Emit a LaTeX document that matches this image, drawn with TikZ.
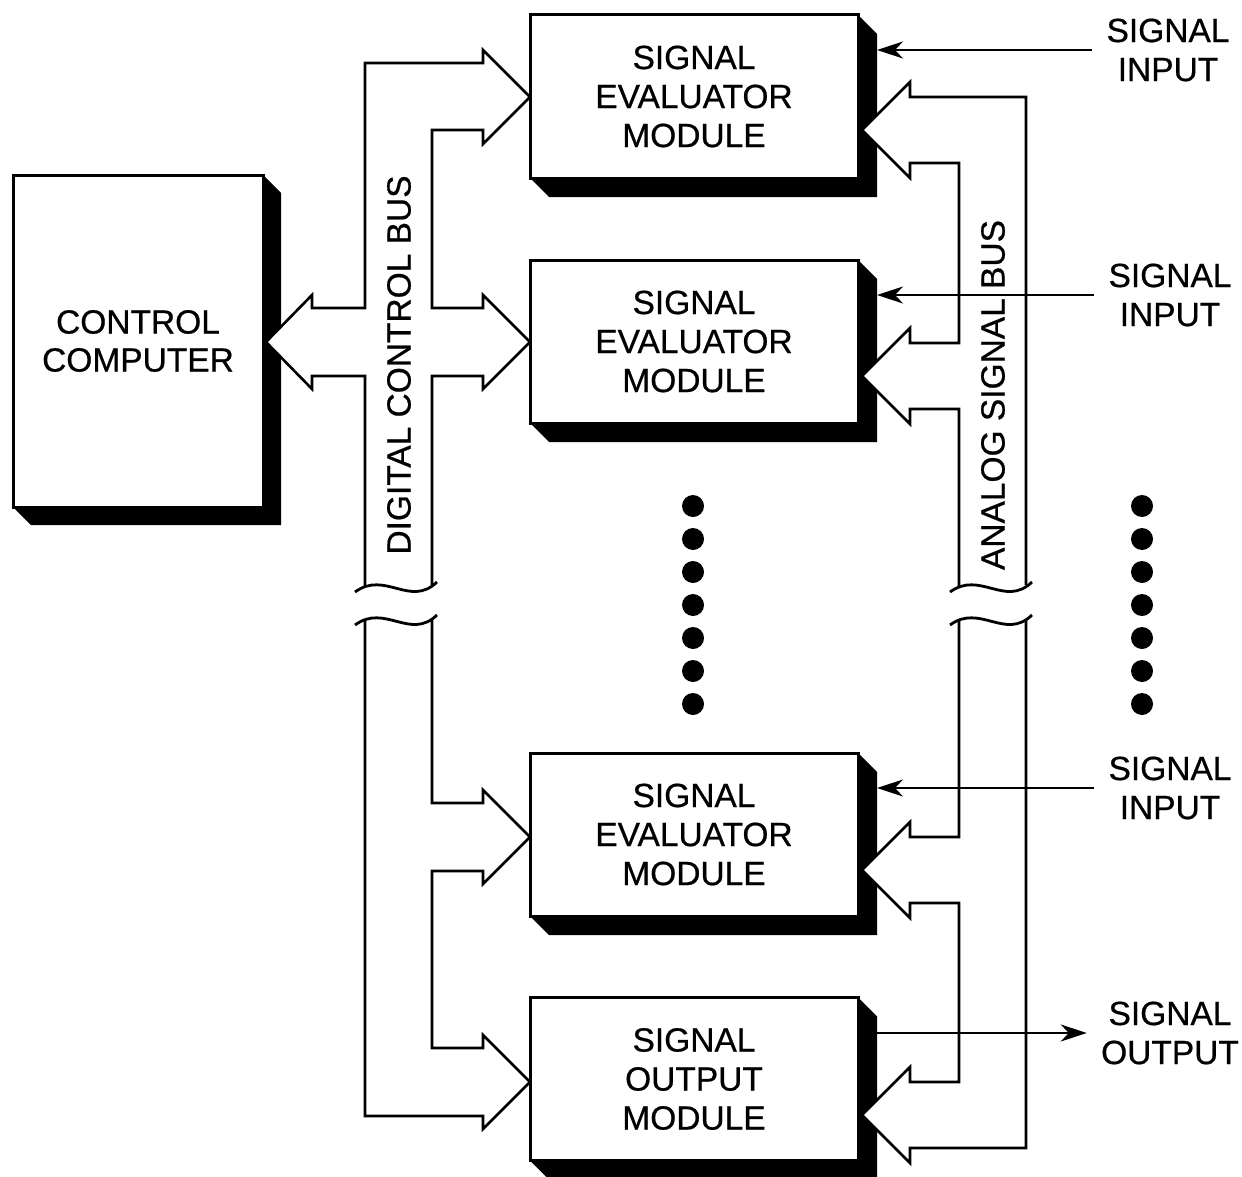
\documentclass[tikz,border=0pt]{standalone}
\usepackage{fontspec}
\setmainfont{Liberation Sans}[FakeBold=0.6]
\usetikzlibrary{arrows.meta,calc,backgrounds}

\tikzset{
  txt/.style={font=\fontsize{16.75}{19.5}\selectfont},
  blk/.style={txt, draw, line width=1.5pt, fill=white, minimum width=164pt,
    minimum height=81.5pt, inner sep=0pt, outer sep=0pt, align=center},
  bus/.style={draw, line width=1.3pt, fill=white, line join=miter},
  brk/.style={line width=1.4pt},
  sig/.style={line width=1.1pt, -{Stealth[length=13pt,width=8.5pt,inset=4pt]}},
  lbl/.style={txt, align=center, inner sep=7pt},
  buslbl/.style={txt, rotate=90, inner sep=0pt},
}

\begin{document}
\begin{tikzpicture}[x=0.5pt, y=-0.5pt]
\useasboundingbox (0,0) rectangle (1242,1177);

% blocks
\node[blk, minimum width=125pt, minimum height=166pt,
      font=\fontsize{16.75}{19}\selectfont] (cc) at (138,341) {CONTROL\\COMPUTER};
\node[blk] (m1) at (694,96.5)  {SIGNAL\\EVALUATOR\\MODULE};
\node[blk] (m2) at (694,341.5) {SIGNAL\\EVALUATOR\\MODULE};
\node[blk] (m3) at (694,834.5) {SIGNAL\\EVALUATOR\\MODULE};
\node[blk] (m4) at (694,1079)  {SIGNAL\\OUTPUT\\MODULE};

% solid block shadows
\begin{scope}[on background layer]
  \foreach \n/\d in {cc/18, m1/19, m2/19, m3/19, m4/19} {
    \fill (\n.north east) -- ++(\d,\d) -- ($(\n.south east)+(\d,\d)$)
      -- ($(\n.south west)+(\d,\d)$) -- (\n.south west) -- cycle;
  }
\end{scope}

% digital control bus, upper part
\path[bus] (365,587) -- (365,376) -- (312,376) -- (312,389) -- (266,342)
  -- (312,295) -- (312,308) -- (365,308) -- (365,63) -- (483,63) -- (483,50)
  -- (530,97) -- (483,144) -- (483,130) -- (432,130) -- (432,308) -- (483,308)
  -- (483,295) -- (530,342) -- (483,389) -- (483,376) -- (432,376) -- (432,586);
% digital control bus, lower part
\path[bus] (432,620) -- (432,803) -- (483,803) -- (483,790) -- (530,837)
  -- (483,884) -- (483,871) -- (432,871) -- (432,1048) -- (483,1048)
  -- (483,1035) -- (530,1082) -- (483,1129) -- (483,1116) -- (365,1116)
  -- (365,620);
\draw[brk] (355,592) .. controls (385,570) and (410,608) .. (437,582);
\draw[brk] (355,625) .. controls (385,603) and (410,641) .. (437,615);

% analog signal bus, upper part
\path[bus] (1026,585) -- (1026,97) -- (910,97) -- (910,82) -- (862,130)
  -- (910,178) -- (910,163) -- (959,163) -- (959,343) -- (910,343)
  -- (910,328) -- (862,376) -- (910,424) -- (910,409) -- (959,409)
  -- (959,587);
% analog signal bus, lower part
\path[bus] (959,621) -- (959,837) -- (910,837) -- (910,822) -- (862,870)
  -- (910,918) -- (910,903) -- (959,903) -- (959,1082) -- (910,1082)
  -- (910,1067) -- (862,1115) -- (910,1163) -- (910,1148) -- (1026,1148)
  -- (1026,619);
\draw[brk] (950,592) .. controls (980,570) and (1005,608) .. (1032,582);
\draw[brk] (950,625) .. controls (980,603) and (1005,641) .. (1032,615);

% bus names
\node[buslbl] (dcb) at (399,365) {DIGITAL CONTROL BUS};
\node[buslbl] (asb) at (993,395) {ANALOG SIGNAL BUS};

% external signals
\node[lbl] (in1) at (1168,50)  {SIGNAL\\INPUT};
\node[lbl] (in2) at (1170,295) {SIGNAL\\INPUT};
\node[lbl] (in3) at (1170,788) {SIGNAL\\INPUT};
\node[lbl] (out) at (1170,1033) {SIGNAL\\OUTPUT};

\draw[sig] (in1.west) -- ($(in1.west -| m1.east)+(19,0)$);
\draw[sig] (in2.west) -- ($(in2.west -| m2.east)+(19,0)$);
\draw[sig] (in3.west) -- ($(in3.west -| m3.east)+(19,0)$);
\draw[sig] ($(out.west -| m4.east)+(19,0)$) -- (out.west);

% ellipsis dots for the repeated modules
\foreach \i in {0,...,6} {
  \fill (693,{506+33*\i}) circle[radius=11];
  \fill (1142,{506+33*\i}) circle[radius=11];
}
\end{tikzpicture}
\end{document}
